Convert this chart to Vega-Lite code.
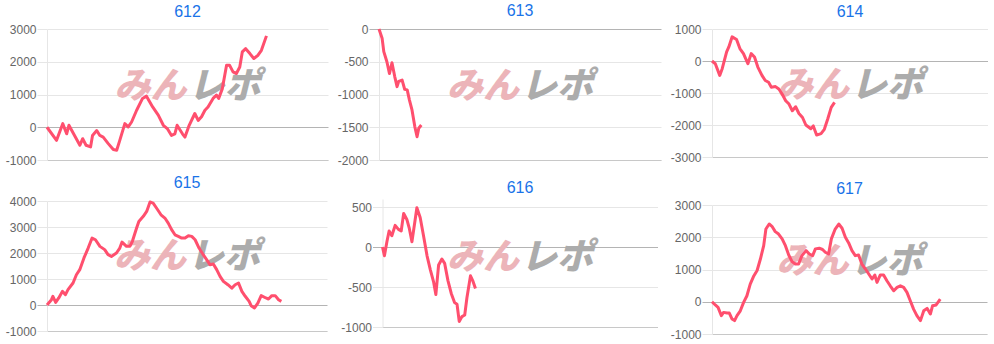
{
  "$schema": "https://vega.github.io/schema/vega-lite/v6.json",
  "padding": {"left": 5, "top": 3, "right": 0, "bottom": 0},
  "background": "white",
  "datasets": {
    "wm": [{"a": "みん", "b": "レポ"}],
    "d612": [{"x":0,"y":0},{"x":3.4,"y":-400},{"x":5.6,"y":110},{"x":7.0,"y":-200},{"x":7.8,"y":60},{"x":11.7,"y":-550},{"x":12.7,"y":-350},{"x":13.9,"y":-550},{"x":15.5,"y":-600},{"x":16.2,"y":-250},{"x":17.7,"y":-100},{"x":18.8,"y":-250},{"x":20.0,"y":-300},{"x":21.8,"y":-500},{"x":23.6,"y":-680},{"x":24.8,"y":-700},{"x":25.9,"y":-400},{"x":27.7,"y":110},{"x":28.9,"y":10},{"x":30.1,"y":160},{"x":31.9,"y":520},{"x":34.0,"y":880},{"x":35.4,"y":950},{"x":37.6,"y":620},{"x":39.6,"y":370},{"x":41.4,"y":60},{"x":42.8,"y":-40},{"x":44.3,"y":-250},{"x":45.5,"y":-200},{"x":46.3,"y":60},{"x":48.2,"y":-200},{"x":49.1,"y":-300},{"x":50.6,"y":60},{"x":52.6,"y":420},{"x":53.8,"y":210},{"x":55.0,"y":320},{"x":56.2,"y":520},{"x":57.3,"y":620},{"x":59.1,"y":880},{"x":60.3,"y":980},{"x":61.1,"y":880},{"x":62.4,"y":1180},{"x":63.9,"y":1890},{"x":65.0,"y":1890},{"x":66.2,"y":1690},{"x":67.4,"y":1640},{"x":68.6,"y":1840},{"x":69.5,"y":2300},{"x":70.7,"y":2400},{"x":72.2,"y":2250},{"x":73.6,"y":2100},{"x":75.1,"y":2200},{"x":76.3,"y":2350},{"x":78.1,"y":2790}],
    "d613": [{"x":0,"y":0},{"x":1.1,"y":-140},{"x":1.7,"y":-345},{"x":2.8,"y":-500},{"x":3.7,"y":-680},{"x":4.6,"y":-515},{"x":5.6,"y":-730},{"x":6.4,"y":-880},{"x":7.0,"y":-800},{"x":8.2,"y":-780},{"x":9.1,"y":-920},{"x":10.0,"y":-930},{"x":10.8,"y":-1085},{"x":11.7,"y":-1235},{"x":12.7,"y":-1490},{"x":13.5,"y":-1645},{"x":14.1,"y":-1515},{"x":15.0,"y":-1465}],
    "d614": [{"x":0,"y":0},{"x":1.2,"y":-85},{"x":2.8,"y":-450},{"x":3.7,"y":-240},{"x":5.3,"y":285},{"x":6.1,"y":440},{"x":7.3,"y":755},{"x":8.9,"y":670},{"x":10.1,"y":390},{"x":11.4,"y":230},{"x":13.0,"y":-85},{"x":14.2,"y":230},{"x":15.4,"y":125},{"x":16.6,"y":-190},{"x":18.1,"y":-450},{"x":19.3,"y":-610},{"x":20.5,"y":-665},{"x":21.5,"y":-820},{"x":23.0,"y":-800},{"x":24.2,"y":-875},{"x":25.4,"y":-1030},{"x":26.7,"y":-1240},{"x":27.9,"y":-1345},{"x":29.1,"y":-1555},{"x":30.3,"y":-1430},{"x":31.5,"y":-1640},{"x":32.8,"y":-1765},{"x":34.0,"y":-2000},{"x":35.8,"y":-2115},{"x":36.7,"y":-2030},{"x":37.9,"y":-2315},{"x":39.5,"y":-2270},{"x":40.7,"y":-2135},{"x":41.9,"y":-1820},{"x":43.2,"y":-1450},{"x":44.4,"y":-1295}],
    "d615": [{"x":0,"y":0},{"x":1.6,"y":205},{"x":2.1,"y":335},{"x":3.1,"y":100},{"x":4.2,"y":270},{"x":5.5,"y":525},{"x":6.6,"y":400},{"x":7.5,"y":590},{"x":9.3,"y":845},{"x":10.5,"y":1165},{"x":11.7,"y":1360},{"x":13.2,"y":1810},{"x":14.7,"y":2190},{"x":16.1,"y":2575},{"x":17.3,"y":2510},{"x":18.9,"y":2255},{"x":20.6,"y":2130},{"x":21.8,"y":1935},{"x":23.0,"y":1870},{"x":24.8,"y":2000},{"x":26.0,"y":2190},{"x":26.8,"y":2420},{"x":28.4,"y":2255},{"x":29.6,"y":2255},{"x":30.5,"y":2450},{"x":32.0,"y":2960},{"x":32.8,"y":3215},{"x":34.4,"y":3410},{"x":35.6,"y":3600},{"x":36.8,"y":3960},{"x":37.9,"y":3920},{"x":39.1,"y":3730},{"x":40.7,"y":3470},{"x":42.1,"y":3345},{"x":43.3,"y":3150},{"x":44.5,"y":2900},{"x":45.7,"y":2700},{"x":46.9,"y":2640},{"x":48.1,"y":2575},{"x":49.3,"y":2575},{"x":50.5,"y":2665},{"x":51.7,"y":2640},{"x":52.9,"y":2510},{"x":54.3,"y":2190},{"x":55.8,"y":1935},{"x":57.0,"y":1745},{"x":58.2,"y":1550},{"x":59.4,"y":1575},{"x":60.6,"y":1360},{"x":61.8,"y":1100},{"x":63.0,"y":910},{"x":64.6,"y":780},{"x":66.0,"y":650},{"x":67.2,"y":780},{"x":68.4,"y":845},{"x":69.6,"y":525},{"x":70.8,"y":335},{"x":72.2,"y":140},{"x":72.9,"y":-25},{"x":74.1,"y":-115},{"x":75.3,"y":75},{"x":76.5,"y":360},{"x":78.2,"y":270},{"x":79.1,"y":230},{"x":80.3,"y":360},{"x":81.5,"y":360},{"x":82.7,"y":205},{"x":83.7,"y":140}],
    "d616": [{"x":0,"y":0},{"x":0.7,"y":-110},{"x":1.6,"y":65},{"x":2.4,"y":200},{"x":3.4,"y":140},{"x":4.6,"y":270},{"x":5.8,"y":220},{"x":6.8,"y":200},{"x":7.7,"y":420},{"x":8.9,"y":340},{"x":9.7,"y":240},{"x":10.7,"y":65},{"x":11.7,"y":300},{"x":12.5,"y":490},{"x":13.7,"y":370},{"x":14.9,"y":145},{"x":16.2,"y":-110},{"x":17.4,"y":-285},{"x":18.6,"y":-440},{"x":19.4,"y":-595},{"x":20.4,"y":-225},{"x":21.6,"y":-150},{"x":22.6,"y":-205},{"x":23.8,"y":-420},{"x":25.0,"y":-580},{"x":26.2,"y":-695},{"x":27.1,"y":-715},{"x":27.9,"y":-930},{"x":28.9,"y":-870},{"x":29.9,"y":-850},{"x":30.7,"y":-635},{"x":32.0,"y":-360},{"x":32.8,"y":-420},{"x":33.8,"y":-520}],
    "d617": [{"x":0,"y":0},{"x":1.2,"y":-100},{"x":2.2,"y":-175},{"x":3.4,"y":-430},{"x":4.2,"y":-330},{"x":5.5,"y":-350},{"x":6.3,"y":-350},{"x":7.3,"y":-535},{"x":8.2,"y":-585},{"x":9.1,"y":-430},{"x":10.3,"y":-280},{"x":11.5,"y":-20},{"x":12.7,"y":185},{"x":13.9,"y":545},{"x":15.2,"y":800},{"x":16.4,"y":970},{"x":17.6,"y":1325},{"x":18.8,"y":1740},{"x":19.6,"y":2255},{"x":20.8,"y":2410},{"x":21.8,"y":2340},{"x":23.0,"y":2175},{"x":24.2,"y":2100},{"x":25.5,"y":1950},{"x":26.7,"y":1740},{"x":27.9,"y":1450},{"x":29.1,"y":1245},{"x":30.3,"y":1170},{"x":31.5,"y":1170},{"x":32.7,"y":1430},{"x":34.2,"y":1585},{"x":35.4,"y":1480},{"x":36.6,"y":1430},{"x":37.6,"y":1640},{"x":39.0,"y":1660},{"x":40.2,"y":1620},{"x":41.2,"y":1535},{"x":42.4,"y":1480},{"x":43.4,"y":1950},{"x":44.8,"y":2255},{"x":46.1,"y":2410},{"x":47.3,"y":2280},{"x":48.5,"y":2000},{"x":49.7,"y":1825},{"x":50.9,"y":1585},{"x":52.1,"y":1430},{"x":53.3,"y":1450},{"x":54.5,"y":1170},{"x":55.8,"y":1015},{"x":57.0,"y":860},{"x":58.2,"y":705},{"x":59.2,"y":830},{"x":60.0,"y":600},{"x":61.2,"y":830},{"x":62.4,"y":830},{"x":63.6,"y":650},{"x":64.8,"y":495},{"x":66.1,"y":340},{"x":67.3,"y":445},{"x":68.5,"y":495},{"x":69.7,"y":445},{"x":70.9,"y":290},{"x":72.1,"y":30},{"x":73.3,"y":-230},{"x":74.5,"y":-430},{"x":75.8,"y":-585},{"x":77.0,"y":-280},{"x":78.2,"y":-205},{"x":79.4,"y":-380},{"x":80.2,"y":-125},{"x":81.5,"y":-100},{"x":83.0,"y":80}]
  },
  "spacing": 9,
  "hconcat": [
    {
      "spacing": 9,
      "vconcat": [
        {
          "width": 281, "height": 131,
          "title": {"text": "612", "offset": 3},
          "layer": [
            {"data": {"name": "wm"}, "mark": {"type": "text", "align": "right", "baseline": "middle", "dx": -1, "dy": -8, "fontSize": 36, "fontStyle": "italic", "fontWeight": 900, "font": "Noto Sans CJK JP", "color": "#ecb4b9"},
             "encoding": {"x": {"datum": 50, "type": "quantitative", "title": null}, "y": {"datum": 1000, "type": "quantitative", "title": null, "axis": {"values": [-1000, 0, 1000, 2000, 3000]}}, "text": {"field": "a"}}},
            {"data": {"name": "wm"}, "mark": {"type": "text", "align": "left", "baseline": "middle", "dx": 1, "dy": -8, "fontSize": 36, "fontStyle": "italic", "fontWeight": 900, "font": "Noto Sans CJK JP", "color": "#acacac"},
             "encoding": {"x": {"datum": 50, "type": "quantitative", "title": null}, "y": {"datum": 1000, "type": "quantitative", "title": null, "axis": {"values": [-1000, 0, 1000, 2000, 3000]}}, "text": {"field": "b"}}},
            {"data": {"name": "d612"}, "mark": {"type": "line", "color": "#ff4f6e", "strokeWidth": 3, "strokeJoin": "round"},
             "encoding": {"x": {"field": "x", "type": "quantitative", "scale": {"domain": [0, 100]}, "title": null},
                          "y": {"field": "y", "type": "quantitative", "scale": {"domain": [-1000, 3000]}, "title": null, "axis": {"values": [-1000, 0, 1000, 2000, 3000]}}}}
          ]
        },
        {
          "width": 280, "height": 130,
          "title": {"text": "615", "offset": 4},
          "layer": [
            {"data": {"name": "wm"}, "mark": {"type": "text", "align": "right", "baseline": "middle", "dx": -1, "dy": -9, "fontSize": 36, "fontStyle": "italic", "fontWeight": 900, "font": "Noto Sans CJK JP", "color": "#ecb4b9"},
             "encoding": {"x": {"datum": 50, "type": "quantitative", "title": null}, "y": {"datum": 1500, "type": "quantitative", "title": null, "axis": {"values": [-1000, 0, 1000, 2000, 3000, 4000]}}, "text": {"field": "a"}}},
            {"data": {"name": "wm"}, "mark": {"type": "text", "align": "left", "baseline": "middle", "dx": 1, "dy": -9, "fontSize": 36, "fontStyle": "italic", "fontWeight": 900, "font": "Noto Sans CJK JP", "color": "#acacac"},
             "encoding": {"x": {"datum": 50, "type": "quantitative", "title": null}, "y": {"datum": 1500, "type": "quantitative", "title": null, "axis": {"values": [-1000, 0, 1000, 2000, 3000, 4000]}}, "text": {"field": "b"}}},
            {"data": {"name": "d615"}, "mark": {"type": "line", "color": "#ff4f6e", "strokeWidth": 3, "strokeJoin": "round"},
             "encoding": {"x": {"field": "x", "type": "quantitative", "scale": {"domain": [0, 100]}, "title": null},
                          "y": {"field": "y", "type": "quantitative", "scale": {"domain": [-1000, 4000]}, "title": null, "axis": {"values": [-1000, 0, 1000, 2000, 3000, 4000]}}}}
          ]
        }
      ]
    },
    {
      "spacing": 14,
      "center": true,
      "vconcat": [
        {
          "width": 282, "height": 131,
          "title": {"text": "613", "offset": 4},
          "layer": [
            {"data": {"name": "wm"}, "mark": {"type": "text", "align": "right", "baseline": "middle", "dx": -1, "dy": -8, "fontSize": 36, "fontStyle": "italic", "fontWeight": 900, "font": "Noto Sans CJK JP", "color": "#ecb4b9"},
             "encoding": {"x": {"datum": 50, "type": "quantitative", "title": null}, "y": {"datum": -1000, "type": "quantitative", "title": null, "axis": {"values": [-2000, -1500, -1000, -500, 0]}}, "text": {"field": "a"}}},
            {"data": {"name": "wm"}, "mark": {"type": "text", "align": "left", "baseline": "middle", "dx": 1, "dy": -8, "fontSize": 36, "fontStyle": "italic", "fontWeight": 900, "font": "Noto Sans CJK JP", "color": "#acacac"},
             "encoding": {"x": {"datum": 50, "type": "quantitative", "title": null}, "y": {"datum": -1000, "type": "quantitative", "title": null, "axis": {"values": [-2000, -1500, -1000, -500, 0]}}, "text": {"field": "b"}}},
            {"data": {"name": "d613"}, "mark": {"type": "line", "color": "#ff4f6e", "strokeWidth": 3, "strokeJoin": "round"},
             "encoding": {"x": {"field": "x", "type": "quantitative", "scale": {"domain": [0, 100]}, "title": null},
                          "y": {"field": "y", "type": "quantitative", "scale": {"domain": [-2000, 0]}, "title": null, "axis": {"values": [-2000, -1500, -1000, -500, 0]}}}}
          ]
        },
        {
          "width": 275, "height": 128,
          "title": {"text": "616", "offset": 3},
          "layer": [
            {"data": {"name": "wm"}, "mark": {"type": "text", "align": "right", "baseline": "middle", "dx": -1, "dy": -9, "fontSize": 36, "fontStyle": "italic", "fontWeight": 900, "font": "Noto Sans CJK JP", "color": "#ecb4b9"},
             "encoding": {"x": {"datum": 50, "type": "quantitative", "title": null}, "y": {"datum": -250, "type": "quantitative", "title": null, "axis": {"values": [-1000, -500, 0, 500]}}, "text": {"field": "a"}}},
            {"data": {"name": "wm"}, "mark": {"type": "text", "align": "left", "baseline": "middle", "dx": 1, "dy": -9, "fontSize": 36, "fontStyle": "italic", "fontWeight": 900, "font": "Noto Sans CJK JP", "color": "#acacac"},
             "encoding": {"x": {"datum": 50, "type": "quantitative", "title": null}, "y": {"datum": -250, "type": "quantitative", "title": null, "axis": {"values": [-1000, -500, 0, 500]}}, "text": {"field": "b"}}},
            {"data": {"name": "d616"}, "mark": {"type": "line", "color": "#ff4f6e", "strokeWidth": 3, "strokeJoin": "round"},
             "encoding": {"x": {"field": "x", "type": "quantitative", "scale": {"domain": [0, 100]}, "title": null},
                          "y": {"field": "y", "type": "quantitative", "scale": {"domain": [-1000, 500]}, "title": null, "axis": {"values": [-1000, -500, 0, 500]}}}}
          ]
        }
      ]
    },
    {
      "spacing": 18,
      "vconcat": [
        {
          "width": 276, "height": 128,
          "title": {"text": "614", "offset": 3},
          "layer": [
            {"data": {"name": "wm"}, "mark": {"type": "text", "align": "right", "baseline": "middle", "dx": -1, "dy": -7, "fontSize": 36, "fontStyle": "italic", "fontWeight": 900, "font": "Noto Sans CJK JP", "color": "#ecb4b9"},
             "encoding": {"x": {"datum": 50, "type": "quantitative", "title": null}, "y": {"datum": -1000, "type": "quantitative", "title": null, "axis": {"values": [-3000, -2000, -1000, 0, 1000]}}, "text": {"field": "a"}}},
            {"data": {"name": "wm"}, "mark": {"type": "text", "align": "left", "baseline": "middle", "dx": 1, "dy": -7, "fontSize": 36, "fontStyle": "italic", "fontWeight": 900, "font": "Noto Sans CJK JP", "color": "#acacac"},
             "encoding": {"x": {"datum": 50, "type": "quantitative", "title": null}, "y": {"datum": -1000, "type": "quantitative", "title": null, "axis": {"values": [-3000, -2000, -1000, 0, 1000]}}, "text": {"field": "b"}}},
            {"data": {"name": "d614"}, "mark": {"type": "line", "color": "#ff4f6e", "strokeWidth": 3, "strokeJoin": "round"},
             "encoding": {"x": {"field": "x", "type": "quantitative", "scale": {"domain": [0, 100]}, "title": null},
                          "y": {"field": "y", "type": "quantitative", "scale": {"domain": [-3000, 1000]}, "title": null, "axis": {"values": [-3000, -2000, -1000, 0, 1000]}}}}
          ]
        },
        {
          "width": 275, "height": 129,
          "title": {"text": "617", "offset": 2},
          "layer": [
            {"data": {"name": "wm"}, "mark": {"type": "text", "align": "right", "baseline": "middle", "dx": -1, "dy": -8, "fontSize": 36, "fontStyle": "italic", "fontWeight": 900, "font": "Noto Sans CJK JP", "color": "#ecb4b9"},
             "encoding": {"x": {"datum": 50, "type": "quantitative", "title": null}, "y": {"datum": 1000, "type": "quantitative", "title": null, "axis": {"values": [-1000, 0, 1000, 2000, 3000]}}, "text": {"field": "a"}}},
            {"data": {"name": "wm"}, "mark": {"type": "text", "align": "left", "baseline": "middle", "dx": 1, "dy": -8, "fontSize": 36, "fontStyle": "italic", "fontWeight": 900, "font": "Noto Sans CJK JP", "color": "#acacac"},
             "encoding": {"x": {"datum": 50, "type": "quantitative", "title": null}, "y": {"datum": 1000, "type": "quantitative", "title": null, "axis": {"values": [-1000, 0, 1000, 2000, 3000]}}, "text": {"field": "b"}}},
            {"data": {"name": "d617"}, "mark": {"type": "line", "color": "#ff4f6e", "strokeWidth": 3, "strokeJoin": "round"},
             "encoding": {"x": {"field": "x", "type": "quantitative", "scale": {"domain": [0, 100]}, "title": null},
                          "y": {"field": "y", "type": "quantitative", "scale": {"domain": [-1000, 3000]}, "title": null, "axis": {"values": [-1000, 0, 1000, 2000, 3000]}}}}
          ]
        }
      ]
    }
  ],
  "config": {
    "view": {"stroke": null},
    "font": "Liberation Sans",
    "title": {"fontSize": 16, "font": "Liberation Sans", "fontWeight": "normal", "color": "#1a73e8"},
    "axisY": {
      "labelFont": "Liberation Sans", "labelFontSize": 12, "labelColor": "#666666", "labelPadding": 1,
      "labelExpr": "datum.value + ''",
      "labelOverlap": false,
      "tickSize": 10,
      "grid": true,
      "gridColor": {"condition": {"test": "datum.value === 0", "value": "#b4b4b4"}, "value": "#e6e6e6"},
      "tickColor": {"condition": {"test": "datum.value === 0", "value": "#b4b4b4"}, "value": "#e6e6e6"},
      "domainColor": "#e6e6e6"
    },
    "axisX": {
      "labels": false, "ticks": false, "grid": false, "domainColor": "#c8c8c8"
    }
  }
}
